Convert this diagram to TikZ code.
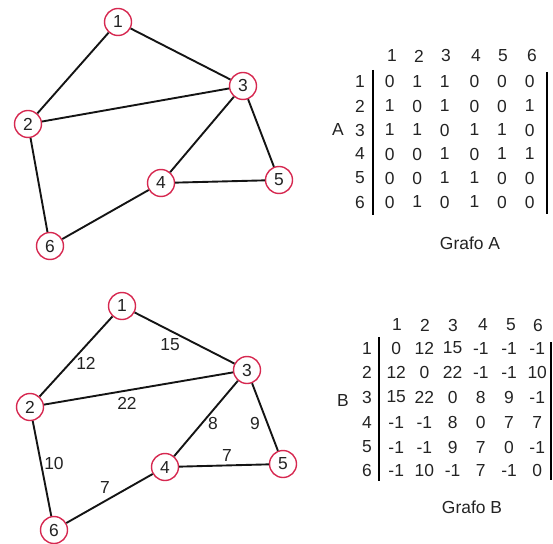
\documentclass[tikz,border=0pt]{standalone}
\usepackage{fontspec}
\setmainfont{Liberation Sans}
\usepackage{tikz}
\usetikzlibrary{positioning, calc}
\definecolor{VertexRed}{RGB}{214, 40, 80}
\definecolor{EdgeGray}{RGB}{20, 20, 20}
\definecolor{TextGray}{RGB}{35, 35, 35}

\begin{document}
\begin{tikzpicture}[
    x=1bp, y=-1bp,
    every node/.style={font=\fontsize{17.5}{19}\selectfont, text=TextGray},
    vertex/.style={circle, draw=VertexRed, fill=white, line width=1.4pt, minimum size=27bp, inner sep=0pt},
    edge/.style={draw=EdgeGray, line width=1.9pt},
    bar/.style={draw=black, line width=2.8pt},
    entry/.style={inner sep=0pt, anchor=center}
  ]
    \useasboundingbox (0,0) rectangle (553,544);

    % Grafo A
    \node[vertex] (a1) at (118,22) {1};
    \node[vertex] (a2) at (28,124) {2};
    \node[vertex] (a3) at (243,86) {3};
    \node[vertex] (a4) at (161,183) {4};
    \node[vertex] (a5) at (279,180) {5};
    \node[vertex] (a6) at (50,246) {6};
    \draw[edge] (a1) -- (a2);
    \draw[edge] (a1) -- (a3);
    \draw[edge] (a2) -- (a3);
    \draw[edge] (a2) -- (a6);
    \draw[edge] (a3) -- (a4);
    \draw[edge] (a3) -- (a5);
    \draw[edge] (a4) -- (a5);
    \draw[edge] (a4) -- (a6);

    % Matriz A
    \foreach \c/\x in {1/392, 2/419, 3/446, 4/476, 5/503, 6/532}
      \node[entry] (ha\c) at (\x,56) {\c};
    \foreach \r/\y/\vals in {1/82/{0,1,1,0,0,0}, 2/106/{1,0,1,0,0,1}, 3/130/{1,1,0,1,1,0},
                             4/154/{0,0,1,0,1,1}, 5/178/{0,0,1,1,0,0}, 6/202/{0,1,0,1,0,0}} {
      \node[entry] (ra\r) at (360,\y) {\r};
      \foreach \v [count=\c] in \vals
        \node[entry] (ma\r\c) at ({362+27.6*\c+ifthenelse(\c>3,2,0)},\y) {\v};
    }
    \coordinate (la-top) at (373,70);
    \coordinate (la-bot) at (373,215);
    \coordinate (lr-top) at (547,72);
    \coordinate (lr-bot) at (547,214);
    \draw[bar] (la-top) -- (la-bot);
    \draw[bar] (lr-top) -- (lr-bot);
    \node[entry] (nameA) at (338,130) {A};
    \node[entry] (titleA) at (470,243) {Grafo A};

    % Grafo B
    \node[vertex] (b1) at (122,306) {1};
    \node[vertex] (b2) at (30,407) {2};
    \node[vertex] (b3) at (247,370) {3};
    \node[vertex] (b4) at (165,467) {4};
    \node[vertex] (b5) at (283,464) {5};
    \node[vertex] (b6) at (54,530) {6};
    \draw[edge] (b1) -- (b2);
    \draw[edge] (b1) -- (b3);
    \draw[edge] (b2) -- (b3);
    \draw[edge] (b2) -- (b6);
    \draw[edge] (b3) -- (b4);
    \draw[edge] (b3) -- (b5);
    \draw[edge] (b4) -- (b5);
    \draw[edge] (b4) -- (b6);
    \node[entry] (w12) at (86,363) {12};
    \node[entry] (w13) at (170,345) {15};
    \node[entry] (w23) at (127,403) {22};
    \node[entry] (w34) at (213,423) {8};
    \node[entry] (w35) at (255,423) {9};
    \node[entry] (w45) at (227,455) {7};
    \node[entry] (w26) at (54,463) {10};
    \node[entry] (w46) at (105,487) {7};

    % Matriz B
    \foreach \c/\x in {1/397, 2/425, 3/453, 4/483, 5/511, 6/538}
      \node[entry] (hb\c) at (\x,325) {\c};
    \foreach \r/\y/\vals in {1/348/{0,12,15,-1,-1,-1}, 2/372/{12,0,22,-1,-1,10}, 3/397/{15,22,0,8,9,-1},
                             4/422/{-1,-1,8,0,7,7}, 5/447/{-1,-1,9,7,0,-1}, 6/470/{-1,10,-1,7,-1,0}} {
      \node[entry] (rb\r) at (367,\y) {\r};
      \foreach \v [count=\c] in \vals
        \node[entry] (mb\r\c) at ({368+28.2*\c},\y) {\v};
    }
    \coordinate (lb-top) at (379,337);
    \coordinate (lb-bot) at (379,481);
    \coordinate (rb-top) at (551,342);
    \coordinate (rb-bot) at (551,480);
    \draw[bar] (lb-top) -- (lb-bot);
    \draw[bar] (rb-top) -- (rb-bot);
    \node[entry] (nameB) at (343,400) {B};
    \node[entry] (titleB) at (472,507) {Grafo B};
\end{tikzpicture}
\end{document}
